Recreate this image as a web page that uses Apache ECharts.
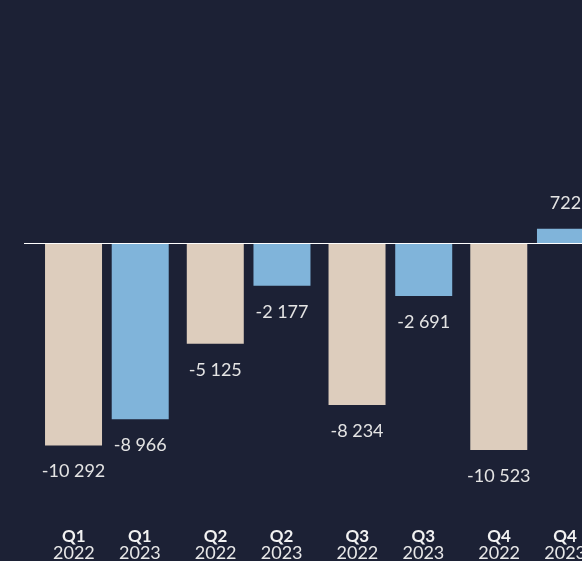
<!DOCTYPE html>
<html>
<head>
<meta charset="UTF-8">
<title>index</title>
<script src="https://cdn.jsdelivr.net/npm/echarts@6/dist/echarts.min.js"></script>
<style>
  html, body { margin: 0; padding: 0; background: #1c2135; }
  #main { width: 582px; height: 561px; }
</style>
</head>
<body>
<div id="main"></div>
<script>
  // quarters, one category per pair of bars
  const quarters = ['Q1', 'Q2', 'Q3', 'Q4']
  const years = ['2022', '2023']
  const values2022 = [-10292, -5125, -8234, -10523]
  const values2023 = [-8966, -2177, -2691, 722]

  const colors = ['#ddcdbd', '#80b4da']
  const font = 'Lato, "Open Sans", sans-serif'

  function fmt(v) {
    let s = String(Math.abs(v)).replace(/\B(?=(\d{3})+(?!\d))/g, ' ')
    return (v < 0 ? '-' : '') + s
  }

  function makeData(arr) {
    return arr.map(v => ({
      value: v,
      label: { position: v < 0 ? 'bottom' : 'top' }
    }))
  }

  function makeSeries(name, arr, color) {
    return {
      name: name,
      type: 'bar',
      data: makeData(arr),
      barWidth: 57,
      barGap: '17%',
      itemStyle: { color: color },
      label: {
        show: true,
        distance: 17,
        color: '#e4e4e4',
        fontSize: 18,
        fontFamily: font,
        formatter: p => fmt(p.value)
      }
    }
  }

  let chart = echarts.init(document.getElementById('main'))
  let option = {
    backgroundColor: '#1c2135',
    animation: false,
    grid: { left: 36, top: 7, width: 567, bottom: 82, outerBoundsMode: 'none', containLabel: false },
    xAxis: {
      type: 'category',
      data: quarters,
      axisLine: { show: false, onZero: false },
      axisTick: { show: false },
      axisLabel: {
        margin: 49,
        formatter: q => `{q|${q}}{q|${q}}\n{y|${years[0]}}{y|${years[1]}}`,
        rich: {
          q: { width: 66, align: 'center', fontSize: 17, fontWeight: 'bold', color: '#f2f2f2', fontFamily: font, lineHeight: 17 },
          y: { width: 66, align: 'center', fontSize: 18, color: '#e8e8e8', fontFamily: font, lineHeight: 17 }
        }
      }
    },
    yAxis: {
      type: 'value',
      min: -12000,
      max: 12000,
      show: false,
      splitLine: { show: false }
    },
    series: [
      makeSeries(years[0], values2022, colors[0]),
      makeSeries(years[1], values2023, colors[1])
    ]
  }
  chart.setOption(option)

  // zero line, a bit wider than the grid
  let y0 = Math.round(chart.convertToPixel({ gridIndex: 0 }, [0, 0])[1]) + 0.5
  chart.setOption({
    graphic: [{
      type: 'line',
      z: 10,
      shape: { x1: 24, y1: y0, x2: 582, y2: y0 },
      style: { stroke: '#ffffff', lineWidth: 1 }
    }]
  })
</script>
</body>
</html>
